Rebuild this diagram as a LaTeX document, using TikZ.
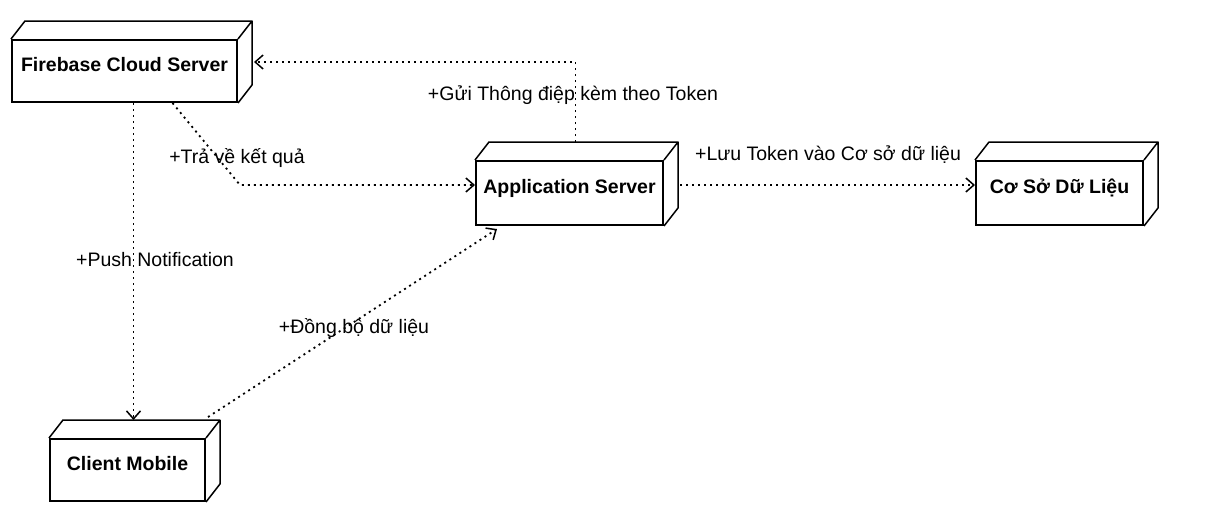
\documentclass[tikz,border=0pt]{standalone}
\usepackage{fontspec}
\setmainfont{Liberation Sans}
\usetikzlibrary{arrows.meta}
\tikzset{
  umlbox/.style={draw,line width=2pt,inner sep=0pt,
    font=\fontsize{19.5}{22}\selectfont\bfseries,text height=14pt,text depth=14pt},
  umlface/.style={line width=1.5pt,line join=round},
  dep/.style={line width=1.8pt,dash pattern=on 2pt off 4pt,
    -{Straight Barb[length=8pt,width=14pt,line width=1.5pt]}},
  deplabel/.style={font=\fontsize{19.5}{22}\selectfont,inner sep=0pt}
}
% top and side faces of a deployment node
\newcommand{\boxfaces}[1]{%
  \draw[umlface] (#1.north west) -- ++(14pt,18pt) -| ([shift={(14pt,18pt)}]#1.south east) -- (#1.south east)
    (#1.north east) -- ++(14pt,18pt);}
\begin{document}
\begin{tikzpicture}[x=1pt,y=-1pt]
\useasboundingbox[fill=white] (0,0) rectangle (1211,506);
\node[umlbox,minimum width=225pt,minimum height=62pt] (fcs) at (124.5,71) {Firebase Cloud Server};
\node[umlbox,minimum width=187pt,minimum height=64pt] (as) at (569.5,193) {Application Server};
\node[umlbox,minimum width=167pt,minimum height=64pt] (db) at (1059.5,193) {Cơ Sở Dữ Liệu};
\node[umlbox,minimum width=155pt,minimum height=62pt] (cm) at (127.5,470) {Client Mobile};
\boxfaces{fcs}
\boxfaces{as}
\boxfaces{db}
\boxfaces{cm}
\coordinate (cmtop) at ([shift={(6pt,18pt)}]cm.north);
\coordinate (bend) at (240,185);
% dependencies
\draw[dep] (fcs.south -| cmtop) -- (cmtop);
\draw[dep] ([xshift=48pt]fcs.south) -- (bend) -- ([yshift=8pt]as.west);
\draw[dep] ([shift={(6pt,18pt)}]as.north) |- ([shift={(16pt,9pt)}]fcs.east);
\draw[dep] ([shift={(16pt,8pt)}]as.east) -- ([yshift=8pt]db.west);
\draw[dep] ([shift={(2pt,21pt)}]cm.north east) -- ([shift={(22pt,-3pt)}]as.south west);
\node[deplabel] (lgui) at (573,95) {+Gửi Thông điệp kèm theo Token};
\node[deplabel] (ltra) at (237,158) {+Trả về kết quả};
\node[deplabel] (lluu) at (828,155) {+Lưu Token vào Cơ sở dữ liệu};
\node[deplabel] (lpush) at (155,260) {+Push Notification};
\node[deplabel] (ldong) at (354,328) {+Đồng bộ dữ liệu};
\end{tikzpicture}
\end{document}
